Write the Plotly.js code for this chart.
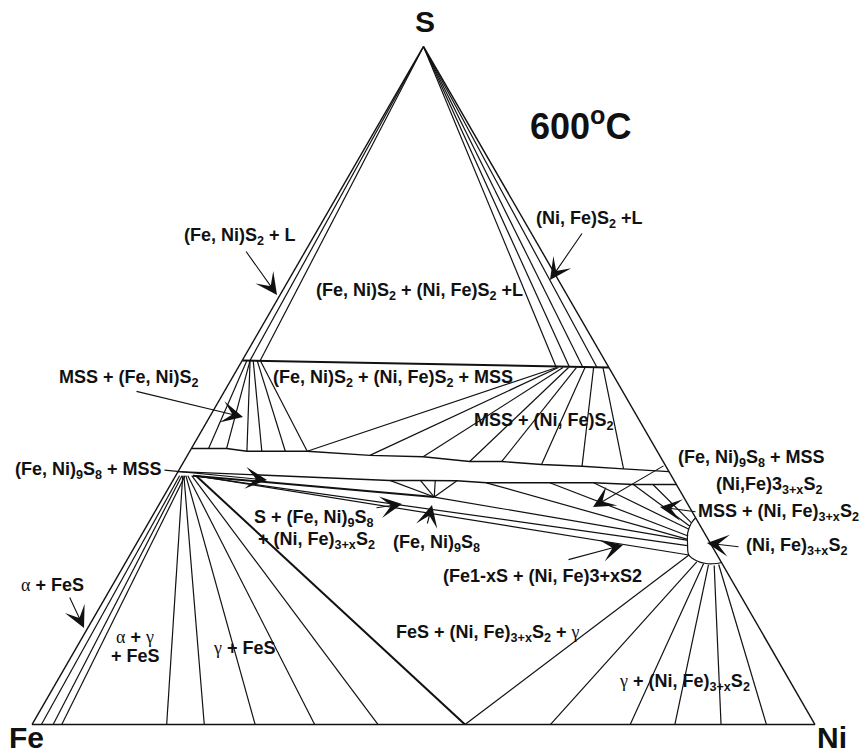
<!DOCTYPE html>
<html>
<head>
<meta charset="utf-8">
<script src="https://cdn.plot.ly/plotly-3.0.1.min.js"></script>
<style>html,body{margin:0;padding:0;background:#fff;}</style>
</head>
<body>
<div id="chart" style="width:861px;height:754px;"></div>
<script>
// Fe–Ni–S at 600 °C. Every composition is [S wt%, Ni wt%]; Fe = 100 - S - Ni.
// Segments are [S1, Ni1, S2, Ni2].
const sulfurLiquidTies = [
  [100, 0, 53.7, 1.0], [100, 0, 53.7, 2.3],
  [100, 0, 52.7, 40.6], [100, 0, 52.7, 42.3], [100, 0, 52.7, 44.0], [100, 0, 52.7, 45.8]
];
const disulfideLine = [[53.7, 0, 52.65, 47.35]];
const pyriteMssTies = [
  [53.7, 0.6, 40.7, 2.2], [53.7, 1.0, 40.7, 4.5], [53.7, 1.0, 40.3, 7.3],
  [53.7, 1.4, 40.3, 9.2], [53.7, 1.9, 40.3, 12.2], [53.7, 2.3, 40.3, 15.0]
];
const vaesiteMssTies = [
  [52.65, 40.7, 40.3, 15.0], [52.65, 40.9, 39.7, 23.3], [52.65, 41.5, 39.5, 30.2],
  [52.65, 42.2, 38.8, 36.5], [52.65, 43.2, 38.8, 40.6], [52.65, 44.3, 38.35, 45.9],
  [52.65, 45.4, 38.1, 51.2], [52.65, 46.6, 37.7, 56.7]
];
const mssTopS  = [40.7, 40.7, 40.3, 40.3, 39.7, 39.5, 38.8, 38.8, 38.35, 38.1, 37.7, 37.3];
const mssTopNi = [0, 4.5, 7.3, 15.0, 23.3, 30.2, 36.5, 40.6, 45.9, 51.2, 56.7, 62.7];
const mssBotS  = [37.3, 36.0, 36.0, 35.95, 35.65, 35.65, 35.65, 35.4, 35.4, 35.4];
const mssBotNi = [0, 27.7, 31.6, 36.3, 40.2, 48.3, 53.9, 59.1, 61.6, 64.6];
const alphaFeSTies = [[36.7, 0.5, 0, 1.2], [36.7, 0.8, 0, 2.7], [36.7, 1.2, 0, 3.8]];
const gammaFeSTies = [
  [36.7, 0.9, 0, 17.2], [36.7, 1.05, 0, 22.0], [36.7, 1.3, 0, 28.5],
  [36.7, 1.55, 0, 36.1], [36.7, 2.05, 0, 44.2]
];
const heavyTies = [
  [36.7, 2.6, 0, 55.3],          // FeS – γ
  [36.7, 2.2, 33.55, 34.6]       // FeS – (Fe,Ni)9S8
];
const feSHeazleTies = [[36.7, 2.2, 26.4, 70.5], [36.7, 2.6, 25.0, 71.4]];
const pentlanditeTies = [
  [33.55, 34.6, 36.0, 27.7], [33.55, 34.6, 36.0, 31.6], [33.55, 34.6, 36.0, 33.5],
  [33.55, 34.6, 35.95, 36.3], [33.55, 34.6, 27.15, 70.2]
];
const mssHeazleTies = [
  [35.65, 40.2, 27.3, 70.1], [35.65, 48.3, 27.8, 69.9], [35.65, 53.9, 28.8, 69.5],
  [35.4, 59.1, 29.25, 69.4], [35.4, 61.6, 29.75, 69.35]
];
const gammaHeazleTies = [
  [0, 55.3, 25.0, 71.4],
  [24.0, 72.9, 0, 66.2], [23.75, 73.9, 0, 76.4], [23.6, 74.6, 0, 82.1],
  [23.45, 75.4, 0, 88.0], [23.6, 75.9, 0, 93.8]
];
const heazleFieldS  = [30.5, 29.65, 28.3, 26.55, 25.05, 24.2, 23.75, 23.75, 23.9];
const heazleFieldNi = [69.5, 69.35, 69.6, 70.45, 71.35, 72.7, 74.2, 75.5, 76.1];

function segTrace(list, width) {
  const a = [], b = [], c = [];
  list.forEach(s => {
    a.push(s[0], s[2], null);
    c.push(s[1], s[3], null);
    b.push(100 - s[0] - s[1], 100 - s[2] - s[3], null);
  });
  return {type: 'scatterternary', mode: 'lines', a, b, c, hoverinfo: 'skip',
          connectgaps: false, line: {color: '#111', width: width || 1.2}, showlegend: false};
}
function polyTrace(S, Ni, width, shape) {
  return {type: 'scatterternary', mode: 'lines', a: S, c: Ni, b: S.map((s, i) => 100 - s - Ni[i]),
          hoverinfo: 'skip', line: {color: '#111', width: width || 1.2, shape: shape || 'linear'},
          showlegend: false};
}

const traces = [
  segTrace(sulfurLiquidTies, 1.2),
  segTrace(disulfideLine, 2.0),
  segTrace(pyriteMssTies, 1.2),
  segTrace(vaesiteMssTies, 1.2),
  polyTrace(mssTopS, mssTopNi, 1.4),
  polyTrace(mssBotS, mssBotNi, 1.4),
  segTrace(alphaFeSTies, 1.2),
  segTrace(gammaFeSTies, 1.2),
  segTrace(heavyTies, 2.0),
  segTrace(feSHeazleTies, 1.2),
  segTrace(pentlanditeTies, 1.2),
  segTrace(mssHeazleTies, 1.2),
  segTrace(gammaHeazleTies, 1.2),
  polyTrace(heazleFieldS, heazleFieldNi, 1.2, 'spline')
];

const W = 861, H = 754, M = {l: 32, r: 46, t: 46, b: 29};
function P(x, y) { return {x: (x - M.l) / (W - M.l - M.r), y: 1 - (y - M.t) / (H - M.t - M.b)}; }
const FONT = 'Liberation Sans, Arial, Helvetica, sans-serif';
const G = s => '<span style="font-family:\'Liberation Serif\',\'Times New Roman\',serif;font-weight:normal">' + s + '</span>';

function label(text, x, y, anchor, size) {
  const p = P(x, y);
  return {xref: 'paper', yref: 'paper', x: p.x, y: p.y, text, showarrow: false,
          xanchor: anchor || 'left', yanchor: 'middle', borderpad: 0,
          font: {family: FONT, size: size || 18, color: '#111', weight: 'bold'}};
}
function arrow(tx, ty, hx, hy) {
  const p = P(hx, hy);
  return {xref: 'paper', yref: 'paper', x: p.x, y: p.y, ax: tx - hx, ay: ty - hy,
          axref: 'pixel', ayref: 'pixel', text: '', showarrow: true,
          arrowhead: 3, arrowsize: 3.3, arrowwidth: 1.1, arrowcolor: '#111'};
}

const annotations = [
  label('S', 425, 22, 'center', 30),
  label('Fe', 26, 737, 'center', 30),
  label('Ni', 832, 737, 'center', 30),
  label('600<sup>o</sup>C', 580, 124, 'center', 36),
  label('(Fe, Ni)S<sub>2</sub> + L', 183, 236),
  label('(Ni, Fe)S<sub>2</sub> +L', 535, 220),
  label('(Fe, Ni)S<sub>2</sub> + (Ni, Fe)S<sub>2</sub> +L', 315, 291),
  label('MSS + (Fe, Ni)S<sub>2</sub>', 200, 378, 'right'),
  label('(Fe, Ni)S<sub>2</sub> + (Ni, Fe)S<sub>2</sub> + MSS', 272, 378),
  label('MSS + (Ni, Fe)S<sub>2</sub>', 473, 421),
  label('(Fe, Ni)<sub>9</sub>S<sub>8</sub> + MSS', 163, 470, 'right'),
  label('(Fe, Ni)<sub>9</sub>S<sub>8</sub> + MSS', 677, 459),
  label('(Ni,Fe)3<sub>3+x</sub>S<sub>2</sub>', 715, 485),
  label('MSS + (Ni, Fe)<sub>3+x</sub>S<sub>2</sub>', 697, 512),
  label('(Ni, Fe)<sub>3+x</sub>S<sub>2</sub>', 745, 546),
  label('S + (Fe, Ni)<sub>9</sub>S<sub>8</sub>', 253, 518),
  label('+ (Ni, Fe)<sub>3+x</sub>S<sub>2</sub>', 257, 540),
  label('(Fe, Ni)<sub>9</sub>S<sub>8</sub>', 392, 543),
  label('(Fe1-xS + (Ni, Fe)3+xS2', 442, 576),
  label(G('α') + ' + FeS', 52, 585, 'center'),
  label(G('α') + ' + ' + G('γ'), 115, 637),
  label('+ FeS', 110, 656),
  label(G('γ') + ' + FeS', 212, 648),
  label('FeS + (Ni, Fe)<sub>3+x</sub>S<sub>2</sub> + ' + G('γ'), 395, 633),
  label(G('γ') + ' + (Ni, Fe)<sub>3+x</sub>S<sub>2</sub>', 618, 682),
  arrow(245, 250, 277, 295),
  arrow(583, 232, 550, 280),
  arrow(135, 391, 243, 417),
  arrow(163, 470, 267, 480),
  arrow(665, 465, 593, 507),
  arrow(697, 512, 660, 507),
  arrow(740, 547, 707, 543),
  arrow(375, 508, 402, 504),
  arrow(427, 525, 432, 505),
  arrow(567, 560, 623, 545),
  arrow(69, 596, 84, 628)
];

const axisStyle = {showline: true, linecolor: '#111', linewidth: 1.4, showgrid: false,
                   showticklabels: false, ticks: '', title: {text: ''}};
const layout = {
  width: W, height: H, margin: M, paper_bgcolor: '#fff', showlegend: false,
  ternary: {sum: 100, bgcolor: '#fff', domain: {x: [0, 1], y: [0, 1]},
            aaxis: axisStyle, baxis: axisStyle, caxis: axisStyle},
  annotations
};
Plotly.newPlot('chart', traces, layout, {displayModeBar: false, staticPlot: true});
</script>
</body>
</html>
